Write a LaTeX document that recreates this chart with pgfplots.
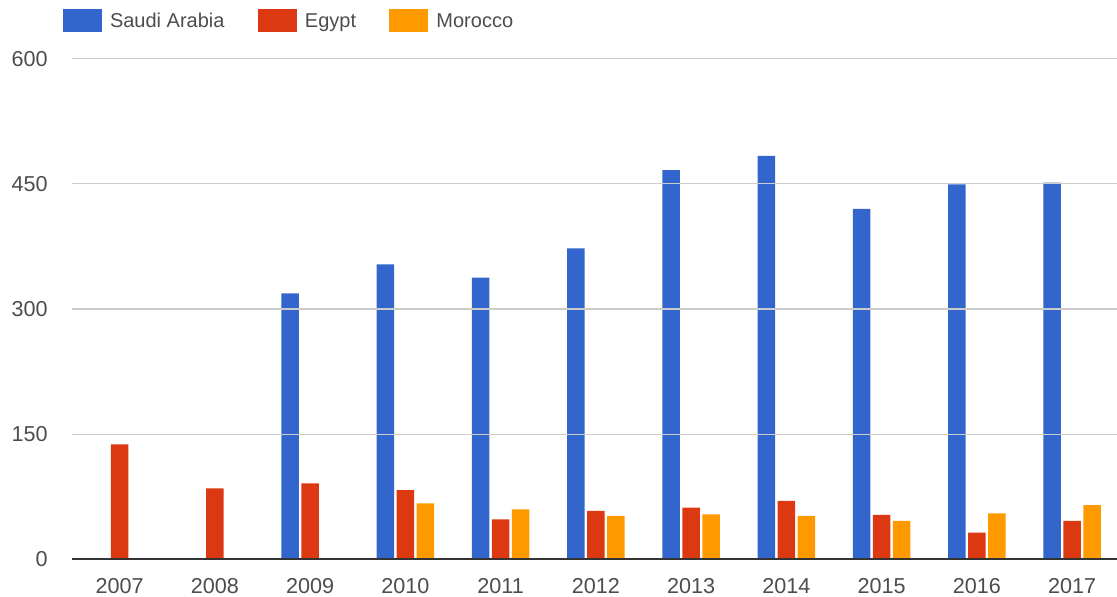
\documentclass[border=0pt]{standalone}
\usepackage{fontspec}
\setmainfont{Liberation Sans}
\usepackage{pgfplots}
\pgfplotsset{compat=1.18}
\definecolor{sa}{HTML}{3366CC}
\definecolor{eg}{HTML}{DC3912}
\definecolor{ma}{HTML}{FF9900}
\definecolor{txt}{HTML}{4D4D4D}
\definecolor{gridc}{HTML}{CCCCCC}
\definecolor{axc}{HTML}{333333}
\begin{document}
\begin{tikzpicture}
\path[use as bounding box] (-36pt,-18.85pt) rectangle (522.5pt,279.65pt);
\begin{axis}[
  at={(0pt,0pt)}, anchor=south west,
  scale only axis,
  width=522.5pt, height=250.35pt,
  ybar,
  xmin=-0.5, xmax=10.472,
  ymin=0, ymax=600,
  ytick={0,150,300,450,600},
  xtick={0,1,2,3,4,5,6,7,8,9,10},
  xticklabels={2007,2008,2009,2010,2011,2012,2013,2014,2015,2016,2017},
  major tick length=0pt,
  axis x line*=bottom,
  axis y line*=left,
  x axis line style={color=axc, line width=1pt},
  y axis line style={draw=none},
  ymajorgrids,
  grid style={color=gridc, line width=0.6pt},
  axis on top,
  /pgf/number format/assume math mode=true,
  ticklabel style={font=\fontsize{10.8}{12}\selectfont, text=txt, inner sep=0pt},
  xticklabel style={anchor=base, yshift=-17pt},
  yticklabel style={anchor=east, xshift=-12pt},
  legend image code/.code={\fill[#1,draw=none] (0pt,-2.15pt) rectangle (19.5pt,9.35pt);},
  legend columns=-1,
  legend cell align=left,
  legend style={at={(rel axis cs:0,1)}, anchor=west, xshift=-4.5pt, yshift=18.55pt,
    draw=none, fill=none, inner sep=0pt, outer sep=0pt,
    font=\fontsize{10}{12}\selectfont, text=txt,
    cells={anchor=base west, inner sep=0pt},
    /tikz/every odd column/.append style={column sep=2pt},
    /tikz/every even column/.append style={column sep=14.7pt}},
]
\addplot[fill=sa, draw=none, bar width=8.75pt, bar shift=-10pt] coordinates {
 (2,318.8) (3,353.5) (4,337.4) (5,372.7) (6,466.5) (7,483.3) (8,419.8) (9,449.4) (10,451.3)};
\addplot[fill=eg, draw=none, bar width=8.75pt, bar shift=0pt] coordinates {
 (0,137.8) (1,85.1) (2,91.1) (3,83.0) (4,47.9) (5,57.9) (6,61.8) (7,69.9) (8,53.1) (9,31.9) (10,45.9)};
\addplot[fill=ma, draw=none, bar width=8.75pt, bar shift=10pt] coordinates {
 (3,67.1) (4,59.9) (5,51.9) (6,53.9) (7,51.9) (8,45.9) (9,55.1) (10,65.0)};
\legend{Saudi Arabia, Egypt, Morocco}
\end{axis}
\end{tikzpicture}
\end{document}
